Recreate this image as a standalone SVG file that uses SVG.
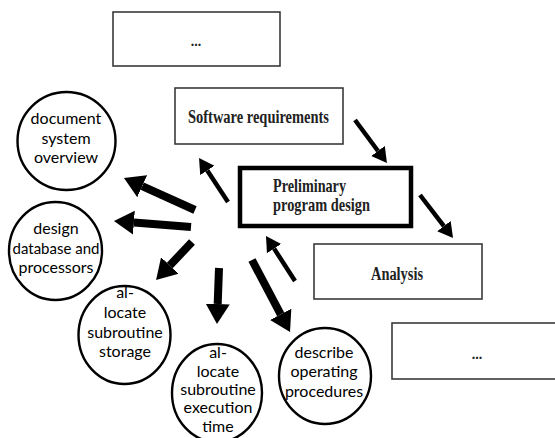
<svg xmlns="http://www.w3.org/2000/svg" width="555" height="438" viewBox="0 0 555 438">
<style>
.box{fill:#fff;stroke:#3a3a3a;stroke-width:1.6}
.main{fill:#fff;stroke:#000;stroke-width:4.5}
.circ{fill:#fff;stroke:#000;stroke-width:2.4}
.serif{font-family:"Liberation Serif","Times New Roman",serif;font-weight:bold;fill:#222}
.sans{font-family:Lato,"Open Sans",sans-serif;font-size:16px;fill:#000;text-anchor:middle}
.thick{stroke:#000;stroke-width:8;fill:none}
.thin{stroke:#000;stroke-width:4.5;fill:none}
</style>
<defs>
<marker id="hk" markerUnits="userSpaceOnUse" markerWidth="22" markerHeight="26" refX="0" refY="12" orient="auto" viewBox="0 0 22 24">
<path d="M0,0 L20,12 L0,24 z" fill="#000"/>
</marker>
<marker id="hn" markerUnits="userSpaceOnUse" markerWidth="16" markerHeight="18" refX="0" refY="8.5" orient="auto" viewBox="0 0 16 17">
<path d="M0,0 L15,8.5 L0,17 z" fill="#000"/>
</marker>
</defs>

<g id="box-top">
<rect class="box" x="113" y="12" width="167" height="54"/>
<text class="serif" x="196" y="46" font-size="14" text-anchor="middle">...</text>
</g>
<g id="box-software-requirements">
<rect class="box" x="175" y="88" width="168" height="56"/>
<text class="serif" x="188" y="123" font-size="18" textLength="141" lengthAdjust="spacingAndGlyphs">Software requirements</text>
</g>
<g id="box-preliminary">
<rect class="main" x="240" y="168" width="171" height="58"/>
<text class="serif" x="273" y="192" font-size="19" textLength="73" lengthAdjust="spacingAndGlyphs">Preliminary</text>
<text class="serif" x="273" y="211" font-size="19" textLength="97" lengthAdjust="spacingAndGlyphs">program design</text>
</g>
<g id="box-analysis">
<rect class="box" x="314" y="244" width="168" height="55"/>
<text class="serif" x="371" y="280" font-size="18" textLength="52" lengthAdjust="spacingAndGlyphs">Analysis</text>
</g>
<g id="box-bottom">
<rect class="box" x="392" y="323" width="170" height="56"/>
<text class="serif" x="477" y="359" font-size="14" text-anchor="middle">...</text>
</g>

<g id="circle-document">
<circle class="circ" cx="66.5" cy="141" r="49"/>
<text class="sans" x="66" y="124">document</text>
<text class="sans" x="66" y="144">system</text>
<text class="sans" x="66" y="163">overview</text>
</g>
<g id="circle-design">
<ellipse class="circ" cx="55.5" cy="251" rx="46.5" ry="49"/>
<text class="sans" x="56" y="234">design</text>
<text class="sans" x="56" y="254" textLength="87" lengthAdjust="spacingAndGlyphs">database and</text>
<text class="sans" x="56" y="273">processors</text>
</g>
<g id="circle-storage">
<ellipse class="circ" cx="124.5" cy="335" rx="46" ry="49"/>
<text class="sans" x="125" y="298">al-</text>
<text class="sans" x="125" y="318">locate</text>
<text class="sans" x="125" y="338">subroutine</text>
<text class="sans" x="125" y="357">storage</text>
</g>
<g id="circle-execution">
<ellipse class="circ" cx="217" cy="393" rx="45" ry="49"/>
<text class="sans" x="218" y="358">al-</text>
<text class="sans" x="218" y="377">locate</text>
<text class="sans" x="218" y="395">subroutine</text>
<text class="sans" x="218" y="413">execution</text>
<text class="sans" x="218" y="432">time</text>
</g>
<g id="circle-describe">
<ellipse class="circ" cx="325" cy="376" rx="46" ry="48"/>
<text class="sans" x="324" y="358">describe</text>
<text class="sans" x="324" y="377">operating</text>
<text class="sans" x="324" y="397">procedures</text>
</g>

<g id="connectors">
<line class="thick" x1="195" y1="210" x2="142.2" y2="186.2" marker-end="url(#hk)"/>
<line class="thick" x1="191" y1="227" x2="133.9" y2="222.6" marker-end="url(#hk)"/>
<line class="thick" x1="192" y1="242" x2="169.8" y2="265.5" marker-end="url(#hk)"/>
<line class="thick" x1="219" y1="268" x2="217.7" y2="304" marker-end="url(#hk)"/>
<line class="thick" x1="252" y1="260" x2="280.7" y2="314.3" marker-end="url(#hk)"/>
<line class="thin" x1="228" y1="202" x2="207.3" y2="170.5" marker-end="url(#hn)"/>
<line class="thin" x1="295" y1="281" x2="274.1" y2="248.6" marker-end="url(#hn)"/>
<line class="thin" x1="355" y1="120" x2="378" y2="151" marker-end="url(#hn)"/>
<line class="thin" x1="420" y1="195" x2="443.9" y2="226.1" marker-end="url(#hn)"/>
</g>
</svg>
